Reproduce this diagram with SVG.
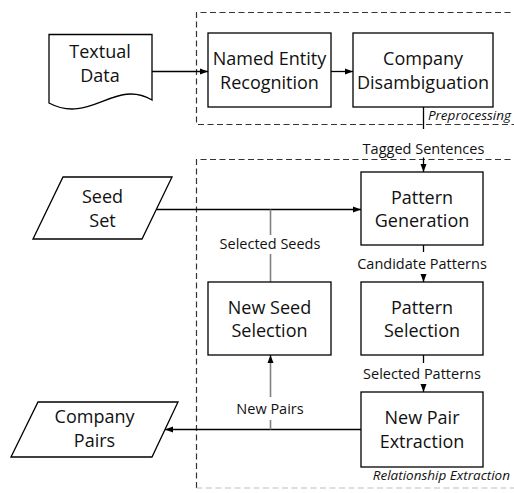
<svg xmlns="http://www.w3.org/2000/svg" width="514" height="493" viewBox="0 0 514 493">
<style>
.box{fill:#fff;stroke:#000;stroke-width:1.3}
.grp{fill:none;stroke:#333;stroke-width:1.2;stroke-dasharray:6 3.5}
.t{font-family:"Open Sans","Liberation Sans",sans-serif;font-size:18px;fill:#111;text-anchor:middle}
.l{font-family:"Open Sans","Liberation Sans",sans-serif;font-size:14.5px;fill:#111;text-anchor:middle}
.it{font-family:"Open Sans","Liberation Sans",sans-serif;font-size:13.5px;font-style:italic;fill:#111;text-anchor:end}
.c{fill:none;stroke:#000;stroke-width:1.3}
.g{fill:none;stroke:#808080;stroke-width:1.6}
</style>
<defs>
<marker id="ah" markerUnits="userSpaceOnUse" markerWidth="8" markerHeight="8" viewBox="0 0 8 8" refX="8" refY="4" orient="auto">
<path d="M0,1 L8,4 L0,7 Z" fill="#000"/>
</marker>
</defs>
<g id="groups">
<path class="grp" d="M520,12.5 H196.5 V124.5 H520"/>
<path class="grp" d="M520,159.5 H196.5 V488"/>
<path d="M196.5,488 H520" fill="none" stroke="#c0c0c0" stroke-width="1.2" stroke-dasharray="6 3.5"/>
<text class="it" x="511" y="120">Preprocessing</text>
<text class="it" x="510" y="480">Relationship Extraction</text>
</g>
<g id="connectors">
<path class="c" d="M152,71.5 H208" marker-end="url(#ah)"/>
<path class="c" d="M331,71.5 H353" marker-end="url(#ah)"/>
<path class="c" d="M423.5,107 V129"/>
<path class="c" d="M423.5,157.5 V172" marker-end="url(#ah)"/>
<path class="c" d="M157,209.5 H361" marker-end="url(#ah)"/>
<path class="g" d="M270.5,282 V254"/>
<path class="g" d="M270.5,235 V209.5"/>
<path class="c" d="M423.5,245 V252"/>
<path class="c" d="M423.5,274 V282" marker-end="url(#ah)"/>
<path class="c" d="M423.5,355 V363"/>
<path class="c" d="M423.5,385 V392" marker-end="url(#ah)"/>
<path class="c" d="M361,429.5 H165" marker-end="url(#ah)"/>
<path class="g" d="M270.5,429.5 V420"/>
<path class="g" d="M270.5,397 V361"/>
<path class="c" d="M270.5,362 V355" marker-end="url(#ah)"/>
<text class="l" x="423.5" y="153.5">Tagged Sentences</text>
<text class="l" x="270" y="249">Selected Seeds</text>
<text class="l" x="422" y="269">Candidate Patterns</text>
<text class="l" x="422" y="379">Selected Patterns</text>
<text class="l" x="270" y="414">New Pairs</text>
</g>
<g id="textual-data">
<path class="box" d="M49,34.5 H152 V100 C115,78 90,125 49,103 Z"/>
<text class="t" x="100" y="58">Textual</text>
<text class="t" x="100" y="82">Data</text>
</g>
<g id="ner">
<rect class="box" x="208" y="33" width="123" height="74"/>
<text class="t" x="269.5" y="65">Named Entity</text>
<text class="t" x="269.5" y="88.5">Recognition</text>
</g>
<g id="company-disambiguation">
<rect class="box" x="353" y="33" width="140" height="74"/>
<text class="t" x="423" y="65">Company</text>
<text class="t" x="423" y="88.5">Disambiguation</text>
</g>
<g id="seed-set">
<path class="box" d="M33,239 L63,177 H172 L142,239 Z"/>
<text class="t" x="102.5" y="203">Seed</text>
<text class="t" x="102.5" y="227">Set</text>
</g>
<g id="pattern-generation">
<rect class="box" x="361" y="172" width="122" height="73"/>
<text class="t" x="422" y="203.5">Pattern</text>
<text class="t" x="422" y="227">Generation</text>
</g>
<g id="new-seed-selection">
<rect class="box" x="208" y="282" width="123" height="73"/>
<text class="t" x="269.5" y="313.5">New Seed</text>
<text class="t" x="269.5" y="337">Selection</text>
</g>
<g id="pattern-selection">
<rect class="box" x="361" y="282" width="122" height="73"/>
<text class="t" x="422" y="313.5">Pattern</text>
<text class="t" x="422" y="337">Selection</text>
</g>
<g id="new-pair-extraction">
<rect class="box" x="361" y="392" width="122" height="75"/>
<text class="t" x="422" y="424">New Pair</text>
<text class="t" x="422" y="448">Extraction</text>
</g>
<g id="company-pairs">
<path class="box" d="M11,457 L38,402 H178 L152,457 Z"/>
<text class="t" x="94.5" y="423">Company</text>
<text class="t" x="94.5" y="447">Pairs</text>
</g>
</svg>
